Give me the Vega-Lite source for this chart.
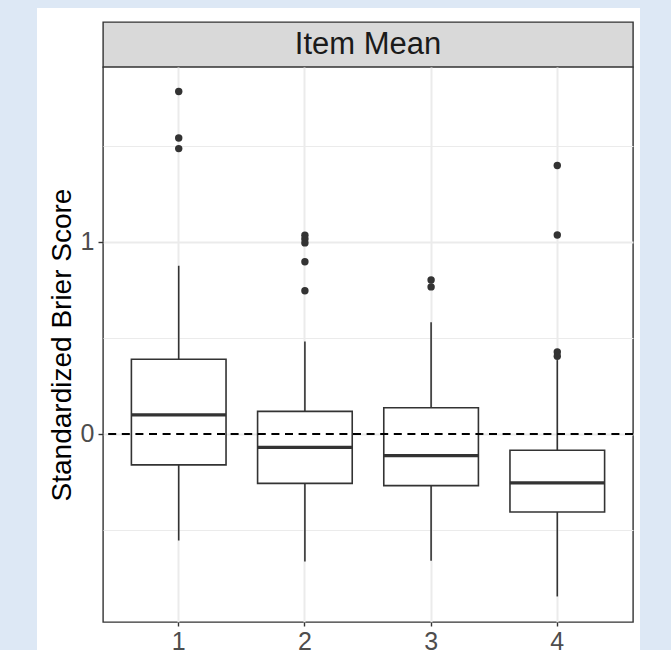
{
  "$schema": "https://vega.github.io/schema/vega-lite/v6.json",
  "background": "white",
  "padding": 0,
  "columns": 5,
  "spacing": 0,
  "bounds": "flush",
  "align": "each",
  "config": {
    "font": "Liberation Sans",
    "view": {"stroke": null},
    "concat": {"spacing": 0}
  },
  "datasets": {
    "boxes": [
      {"g": "1", "lower": -0.554, "q1": -0.161, "median": 0.100, "q3": 0.389, "upper": 0.876},
      {"g": "2", "lower": -0.664, "q1": -0.257, "median": -0.070, "q3": 0.118, "upper": 0.481},
      {"g": "3", "lower": -0.660, "q1": -0.269, "median": -0.113, "q3": 0.137, "upper": 0.582},
      {"g": "4", "lower": -0.846, "q1": -0.406, "median": -0.255, "q3": -0.085, "upper": 0.385}
    ],
    "outliers": [
      {"g": "1", "v": 1.783}, {"g": "1", "v": 1.541}, {"g": "1", "v": 1.486},
      {"g": "2", "v": 1.035}, {"g": "2", "v": 1.015}, {"g": "2", "v": 0.995}, {"g": "2", "v": 0.897}, {"g": "2", "v": 0.746},
      {"g": "3", "v": 0.802}, {"g": "3", "v": 0.766},
      {"g": "4", "v": 1.398}, {"g": "4", "v": 1.036}, {"g": "4", "v": 0.427}, {"g": "4", "v": 0.405}
    ],
    "zero": [{"y": 0}],
    "strip": [{"label": "Item Mean"}],
    "one": [{}]
  },
  "concat": [
    {"width": 37, "height": 8, "data": {"name": "one"}, "mark": {"type": "point", "opacity": 0}, "view": {"fill": "#dde8f5", "stroke": null}},
    {"width": 66, "height": 8, "data": {"name": "one"}, "mark": {"type": "point", "opacity": 0}, "view": {"fill": "#dde8f5", "stroke": null}},
    {"width": 530, "height": 8, "data": {"name": "one"}, "mark": {"type": "point", "opacity": 0}, "view": {"fill": "#dde8f5", "stroke": null}},
    {"width": 7, "height": 8, "data": {"name": "one"}, "mark": {"type": "point", "opacity": 0}, "view": {"fill": "#dde8f5", "stroke": null}},
    {"width": 31, "height": 8, "data": {"name": "one"}, "mark": {"type": "point", "opacity": 0}, "view": {"fill": "#dde8f5", "stroke": null}},

    {"width": 37, "height": 14, "data": {"name": "one"}, "mark": {"type": "point", "opacity": 0}, "view": {"fill": "#dde8f5", "stroke": null}},
    {"width": 66, "height": 14, "data": {"name": "one"}, "mark": {"type": "point", "opacity": 0}},
    {"width": 530, "height": 14, "data": {"name": "one"}, "mark": {"type": "point", "opacity": 0}},
    {"width": 7, "height": 14, "data": {"name": "one"}, "mark": {"type": "point", "opacity": 0}},
    {"width": 31, "height": 14, "data": {"name": "one"}, "mark": {"type": "point", "opacity": 0}, "view": {"fill": "#dde8f5", "stroke": null}},

    {"width": 37, "height": 45, "data": {"name": "one"}, "mark": {"type": "point", "opacity": 0}, "view": {"fill": "#dde8f5", "stroke": null}},
    {"width": 66, "height": 45, "data": {"name": "one"}, "mark": {"type": "point", "opacity": 0}},
    {
      "width": 530, "height": 45,
      "view": {"fill": "#d9d9d9", "stroke": "#333333", "strokeWidth": 1.4},
      "data": {"name": "strip"},
      "mark": {"type": "text", "fontSize": 31, "color": "#1a1a1a", "baseline": "middle", "align": "center"},
      "encoding": {"text": {"field": "label", "type": "nominal"}}
    },
    {"width": 7, "height": 45, "data": {"name": "one"}, "mark": {"type": "point", "opacity": 0}},
    {"width": 31, "height": 45, "data": {"name": "one"}, "mark": {"type": "point", "opacity": 0}, "view": {"fill": "#dde8f5", "stroke": null}},

    {"width": 37, "height": 583, "data": {"name": "one"}, "mark": {"type": "point", "opacity": 0}, "view": {"fill": "#dde8f5", "stroke": null}},
    {"width": 66, "height": 1, "data": {"name": "one"}, "mark": {"type": "point", "opacity": 0}},
    {
      "width": 530, "height": 555,
      "view": {"fill": "white", "stroke": "#333333", "strokeWidth": 1.4},
      "encoding": {
        "x": {
          "field": "g", "type": "nominal",
          "scale": {"type": "band", "domain": ["1", "2", "3", "4"], "paddingInner": 0.25, "paddingOuter": 0.225},
          "axis": {
            "title": null, "labelAngle": 0, "labelFontSize": 25, "labelColor": "#4d4d4d",
            "labelPadding": 3, "tickSize": 4, "tickColor": "#333333", "tickWidth": 1.4,
            "domain": false, "grid": true, "gridColor": "#ebebeb", "gridWidth": 2
          }
        }
      },
      "layer": [
        {
          "data": {"name": "boxes"},
          "mark": {"type": "rule", "color": "#333333", "strokeWidth": 1.6},
          "encoding": {
            "y": {
              "field": "lower", "type": "quantitative",
              "scale": {"domain": [-0.979, 1.911], "nice": false, "zero": false},
              "axis": {
                "title": "Standardized Brier Score", "titleFontSize": 28, "titleFontWeight": "normal", "titleColor": "#000000", "titlePadding": 4,
                "values": [-0.5, 0, 0.5, 1, 1.5],
                "labelExpr": "datum.value % 1 === 0 ? format(datum.value, 'd') : ''",
                "labelFontSize": 25, "labelColor": "#4d4d4d", "labelPadding": 4,
                "tickSize": 5, "tickColor": "#333333", "tickWidth": 1.4,
                "tickOpacity": {"condition": {"test": "datum.value % 1 === 0", "value": 1}, "value": 0},
                "domain": false, "grid": true, "gridColor": "#ebebeb",
                "gridWidth": {"condition": {"test": "datum.value % 1 === 0", "value": 2}, "value": 1.1}
              }
            },
            "y2": {"field": "upper"}
          }
        },
        {
          "data": {"name": "boxes"},
          "mark": {"type": "bar", "fill": "white", "stroke": "#333333", "strokeWidth": 1.6},
          "encoding": {
            "y": {"field": "q1", "type": "quantitative"},
            "y2": {"field": "q3"}
          }
        },
        {
          "data": {"name": "boxes"},
          "mark": {"type": "bar", "fill": "#333333", "stroke": "#333333", "strokeWidth": 3.2},
          "encoding": {
            "y": {"field": "median", "type": "quantitative"},
            "y2": {"field": "median"}
          }
        },
        {
          "data": {"name": "outliers"},
          "mark": {"type": "circle", "color": "#333333", "opacity": 1, "size": 55},
          "encoding": {
            "y": {"field": "v", "type": "quantitative"}
          }
        },
        {
          "data": {"name": "zero"},
          "mark": {"type": "rule", "color": "#000000", "strokeWidth": 1.8, "strokeDash": [8, 5.6]},
          "encoding": {
            "x": null,
            "y": {"field": "y", "type": "quantitative"}
          }
        }
      ]
    },
    {"width": 7, "height": 1, "data": {"name": "one"}, "mark": {"type": "point", "opacity": 0}},
    {"width": 31, "height": 583, "data": {"name": "one"}, "mark": {"type": "point", "opacity": 0}, "view": {"fill": "#dde8f5", "stroke": null}}
  ]
}
